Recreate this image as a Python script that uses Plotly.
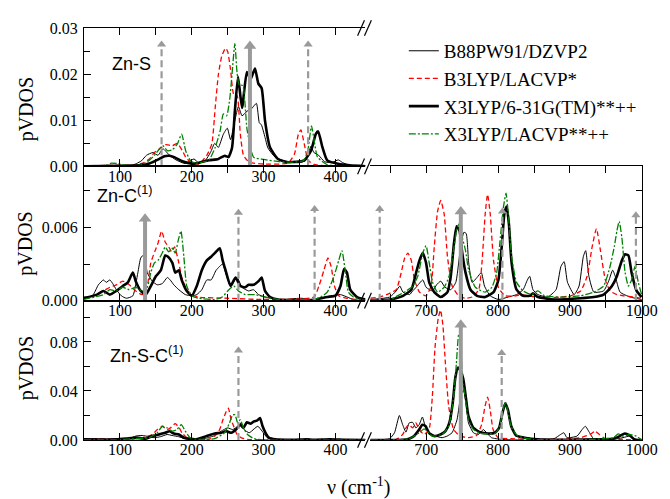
import plotly.graph_objects as go

# ---------------- data (wavenumber cm-1, pVDOS) ----------------
series_names = ["B88PW91/DZVP2", "B3LYP/LACVP*", "X3LYP/6-31G(TM)**++", "X3LYP/LACVP**++"]
panel_labels = ["Zn-S", "Zn-C<sup>(1)</sup>", "Zn-S-C<sup>(1)</sup>"]
left_ticks = [100, 200, 300, 400]
right_ticks = [700, 800, 900, 1000]

# Zn-S panel
zns_b88_x = [50, 100, 118, 123, 130, 137, 146, 153, 160, 169, 178, 191, 203, 210, 219, 226, 232, 237, 244, 249.5, 254, 260, 265, 270, 277, 283, 290, 294, 297, 302, 306, 316, 334, 350, 359, 366, 370, 376, 385, 395, 404, 410, 420, 442]
zns_b88_y = [0, 0.0002, 0.0003, 0.0006, 0.0012, 0.0024, 0.003, 0.0024, 0.0038, 0.0024, 0.0014, 0.0006, 0.0016, 0.0007, 0.0013, 0.003, 0.005, 0.0041, 0.007, 0.0083, 0.0058, 0.010, 0.013, 0.011, 0.012, 0.0125, 0.0137, 0.0095, 0.009, 0.0063, 0.004, 0.002, 0.0009, 0.0008, 0.0013, 0.0044, 0.003, 0.0025, 0.001, 0.0008, 0.0014, 0.0008, 0.0002, 0]
zns_b3_x = [50, 80, 120, 132, 141, 148, 157, 164, 173, 180, 187, 191.5, 200, 210, 221, 228, 232.6, 237, 241.8, 247, 250, 254, 258.5, 263, 267.6, 272, 280, 300, 334, 343, 348.4, 352, 356.6, 362, 370, 390, 442]
zns_b3_y = [0, 0.0002, 0.0003, 0.0007, 0.0016, 0.003, 0.004, 0.0047, 0.0045, 0.005, 0.0034, 0.002, 0.0007, 0.0005, 0.0024, 0.0049, 0.0127, 0.0199, 0.024, 0.0257, 0.025, 0.021, 0.0156, 0.0155, 0.007, 0.0024, 0.0009, 0.0005, 0.0007, 0.0027, 0.007, 0.0079, 0.0049, 0.0013, 0.0004, 0.0001, 0]
zns_x6_x = [50, 100, 130, 141, 155, 162, 169, 175.6, 187, 196, 205, 223.5, 237, 246, 251, 256, 260, 264.4, 270, 276.7, 282, 288, 292.7, 297.3, 302, 309, 320, 334, 356.6, 366, 372.6, 376, 382, 388.6, 402, 420, 442]
zns_x6_y = [0, 0.0001, 0.0003, 0.0006, 0.0016, 0.0022, 0.0023, 0.002, 0.0011, 0.0007, 0.0006, 0.0013, 0.0016, 0.0023, 0.002, 0.004, 0.012, 0.0195, 0.0127, 0.0205, 0.019, 0.0213, 0.018, 0.017, 0.0099, 0.0041, 0.0016, 0.0009, 0.0013, 0.0034, 0.007, 0.0076, 0.0041, 0.0013, 0.0006, 0.0002, 0]
zns_xl_x = [50, 80, 88, 96, 110, 130, 141, 148, 159.6, 166, 173, 180, 186, 191.5, 198, 205, 223.5, 232.6, 239.5, 244, 248.6, 253, 256, 260, 263, 266, 271, 277, 286, 300, 322, 340, 355, 361, 366.7, 371, 375, 388, 400, 442]
zns_xl_y = [0, 0.0002, 0.0007, 0.0006, 0.0002, 0.0003, 0.0013, 0.0024, 0.0045, 0.0034, 0.0036, 0.0049, 0.007, 0.0034, 0.0013, 0.0007, 0.0013, 0.0041, 0.0077, 0.0114, 0.011, 0.0148, 0.020, 0.0267, 0.0205, 0.0177, 0.0176, 0.008, 0.002, 0.0015, 0.001, 0.0009, 0.0012, 0.003, 0.0088, 0.005, 0.002, 0.0004, 0.0001, 0]

# Zn-C(1) panel
znc_b88_x = [49, 58, 63, 70, 77, 81, 86, 90, 95, 102, 109, 118, 125, 129, 134, 138, 145, 152, 159, 166, 170, 175, 182, 191, 200, 207, 214, 221, 227, 234, 243, 247, 254, 263, 270, 279, 286, 293, 302, 320, 352, 370, 393, 407, 425, 442,
             622, 649, 658, 663, 667.5, 676.6, 681, 685.8, 695, 699.6, 708.7, 714.2, 720, 726, 734, 741, 747.7, 752.3, 755.5, 759, 763.8, 770.6, 776.6, 781, 789, 800.4, 814, 825.7, 834.8, 840.8, 844, 848.6, 855.5, 869, 880.7, 887.5, 892, 896.7, 906, 912.8, 918.7, 922, 926.5, 933.4, 947, 954, 959.6, 963.2, 970, 984, 1000]
znc_b88_y = [0.0003, 0.0003, 0.0005, 0.0013, 0.0017, 0.0015, 0.0017, 0.0014, 0.0009, 0.0004, 0.0002, 0.0004, 0.0023, 0.0035, 0.0038, 0.0023, 0.0016, 0.0013, 0.0014, 0.0019, 0.0017, 0.0013, 0.0009, 0.0005, 0.0004, 0.0005, 0.0009, 0.0017, 0.0017, 0.0025, 0.003, 0.0023, 0.0012, 0.0019, 0.0011, 0.0008, 0.0009, 0.0005, 0.0003, 0.0001, 0.0002, 0.0001, 0.0004, 0.0005, 0.0001, 0,
             0.0001, 0.0003, 0.0008, 0.0012, 0.0007, 0.0005, 0.0008, 0.0011, 0.0017, 0.0011, 0.0008, 0.0013, 0.0016, 0.0011, 0.0009, 0.0015, 0.0044, 0.0056, 0.0055, 0.0031, 0.0015, 0.0019, 0.0023, 0.0012, 0.0004, 0.0001, 0.0003, 0.0005, 0.0009, 0.0017, 0.002, 0.0009, 0.0005, 0.0003, 0.0009, 0.0028, 0.0032, 0.0015, 0.0005, 0.0012, 0.0036, 0.0041, 0.002, 0.0007, 0.0008, 0.0016, 0.0025, 0.002, 0.0007, 0.0003, 0.0001]
znc_b3_x = [49, 63, 77, 86, 95, 104, 113, 122, 131, 138, 143, 149, 153, 158, 163, 168, 172, 176, 182, 186, 193, 200, 209, 250, 300, 370, 377, 384, 389.5, 394, 398.6, 404.6, 416, 442,
            622, 635, 644.5, 658, 665, 669.8, 674.3, 679, 683.5, 690.4, 699.6, 706.5, 711, 715.6, 720, 724.8, 729.4, 736, 745, 754.6, 763.8, 773, 777.5, 782, 785.3, 789, 793.6, 800.4, 809.6, 823.4, 832.5, 841.7, 864.6, 887.5, 901.3, 915, 924, 931, 937, 942.6, 949.4, 956, 965.5, 974.7, 988.4, 1000]
znc_b3_y = [0.0002, 0.0004, 0.0008, 0.0011, 0.0013, 0.0016, 0.0013, 0.0008, 0.0005, 0.0012, 0.0031, 0.0041, 0.0047, 0.0057, 0.0048, 0.0044, 0.004, 0.0044, 0.0031, 0.0019, 0.0009, 0.0005, 0.0003, 0.0002, 0.0001, 0.0003, 0.0012, 0.0025, 0.0035, 0.0028, 0.0012, 0.0004, 0.0002, 0,
            0.0002, 0.0003, 0.0005, 0.0009, 0.0023, 0.0035, 0.0039, 0.0033, 0.0017, 0.0007, 0.0004, 0.0012, 0.0044, 0.0073, 0.0082, 0.0071, 0.0036, 0.0012, 0.0004, 0.0002, 0.0003, 0.0009, 0.0031, 0.0071, 0.0087, 0.0071, 0.0033, 0.0011, 0.0004, 0.0004, 0.0005, 0.0004, 0.0002, 0.0003, 0.0004, 0.0008, 0.002, 0.0044, 0.0059, 0.0041, 0.0017, 0.0008, 0.0005, 0.0004, 0.0003, 0.0002]
znc_x6_x = [49, 68, 77, 86, 95, 104, 111, 118, 122, 129, 136, 143, 150, 157, 163, 167, 173, 177, 182, 186, 193, 200, 207, 214, 221, 227, 232, 239, 243, 247, 254, 261, 267.6, 274.5, 279, 286, 293, 297.3, 302, 309, 320, 360, 388.6, 400, 407, 412, 416, 420.6, 430, 442,
            622, 649, 667.5, 679, 685.8, 690.4, 695, 699.6, 704, 711, 720, 729.4, 734, 738.5, 742.2, 746.3, 750, 754.6, 761.5, 770.6, 782, 793.6, 800.4, 805, 808.7, 811.9, 815, 818.8, 825.7, 834.8, 844, 848.6, 855.5, 878.4, 915, 933.4, 947, 958.6, 965.5, 972.4, 977, 981.6, 986, 993, 1000]
znc_x6_y = [0.0002, 0.0005, 0.0008, 0.0005, 0.0008, 0.0012, 0.0015, 0.0023, 0.0016, 0.0008, 0.0005, 0.0012, 0.002, 0.0025, 0.0037, 0.0036, 0.0031, 0.0023, 0.0025, 0.0017, 0.0008, 0.0004, 0.0012, 0.0025, 0.0033, 0.0036, 0.0039, 0.0043, 0.0033, 0.0025, 0.0012, 0.0019, 0.0012, 0.0011, 0.0013, 0.0013, 0.0016, 0.0019, 0.0008, 0.0003, 0.0001, 0, 0.0003, 0.0004, 0.0012, 0.0026, 0.0023, 0.0009, 0.0003, 0.0001,
            0, 0.0001, 0.0004, 0.0009, 0.0023, 0.0033, 0.0039, 0.0031, 0.0015, 0.0007, 0.0003, 0.0007, 0.002, 0.0047, 0.0061, 0.0057, 0.0039, 0.0023, 0.0009, 0.0004, 0.0003, 0.0007, 0.0017, 0.0044, 0.0071, 0.0077, 0.0063, 0.0031, 0.0009, 0.0004, 0.0004, 0.0006, 0.0003, 0.0001, 0.0002, 0.0003, 0.0005, 0.0012, 0.002, 0.0033, 0.0038, 0.0037, 0.0023, 0.0008, 0.0003]
znc_xl_x = [49, 77, 86, 95, 104, 113, 122, 131, 138, 143, 148, 153, 159, 163, 168, 173, 177, 181, 185, 189, 193, 200, 209, 232, 242.5, 251.6, 258.5, 265, 274.5, 288, 302, 320, 370, 379.5, 388.6, 398, 404.6, 409, 414, 418, 425, 442,
            622, 650, 663, 672, 681, 688, 695, 699.6, 704, 708.7, 715.6, 724.8, 731.7, 738.5, 743, 746.3, 750, 754.6, 759, 768.3, 782, 791.3, 798, 802.7, 807.3, 811, 814.2, 818.8, 825.7, 834.8, 846.3, 855.5, 864.6, 887.5, 915, 933.4, 947, 956, 961.8, 965.5, 968.7, 972.4, 977, 981.6, 986, 990.7, 995.3, 1000]
znc_xl_y = [0.0001, 0.0005, 0.0009, 0.0008, 0.0011, 0.0009, 0.0011, 0.0008, 0.0011, 0.0023, 0.0031, 0.0033, 0.0039, 0.0044, 0.004, 0.0043, 0.0039, 0.0049, 0.0057, 0.0036, 0.0012, 0.0004, 0.0002, 0.0001, 0.0003, 0.0009, 0.0012, 0.0008, 0.0005, 0.0005, 0.0003, 0.0001, 0.0001, 0.0003, 0.0007, 0.002, 0.0033, 0.0041, 0.0023, 0.0007, 0.0003, 0,
            0.0001, 0.0001, 0.0005, 0.0008, 0.0012, 0.002, 0.0039, 0.0045, 0.0031, 0.0015, 0.0007, 0.0011, 0.002, 0.0044, 0.006, 0.0063, 0.0052, 0.0041, 0.0025, 0.0011, 0.0007, 0.0011, 0.0023, 0.0049, 0.0076, 0.0088, 0.0071, 0.0036, 0.0015, 0.0008, 0.0005, 0.0008, 0.0004, 0.0003, 0.0004, 0.0007, 0.0012, 0.0028, 0.0044, 0.0057, 0.0065, 0.0052, 0.0023, 0.0012, 0.0017, 0.0028, 0.0015, 0.0005]

# Zn-S-C(1) panel
znsc_b88_x = [50, 104, 113, 122, 131, 140.6, 147.5, 156.6, 165.7, 172.6, 181.7, 191, 209, 223, 232, 241, 250, 257, 264, 268.5, 273, 280, 286.7, 292, 298, 305, 314, 340, 442,
              622, 648.7, 655.6, 662.4, 667, 671.6, 676, 680.8, 685.4, 690, 694.5, 699, 703.7, 713, 722, 729, 735.8, 742.7, 748.6, 751.8, 755.5, 758.7, 765.6, 772.5, 779.4, 784, 790.8, 804.6, 832, 841, 850, 878, 887, 891.7, 896, 910, 917, 921.5, 927.5, 933, 956, 974, 983, 992.5, 1000]
znsc_b88_y = [0.0001, 0.0001, 0.0011, 0.0032, 0.0037, 0.0027, 0.0019, 0.0027, 0.0045, 0.0037, 0.0027, 0.0011, 0.0005, 0.0019, 0.0037, 0.0072, 0.0099, 0.0085, 0.0112, 0.0139, 0.0085, 0.0059, 0.009, 0.0112, 0.0072, 0.0019, 0.0005, 0.0001, 0,
              0, 0.0011, 0.0059, 0.020, 0.0125, 0.0064, 0.0139, 0.0144, 0.0099, 0.0125, 0.0187, 0.0099, 0.0059, 0.0032, 0.0019, 0.0032, 0.0059, 0.0165, 0.0379, 0.0405, 0.030, 0.0139, 0.0059, 0.0045, 0.0085, 0.0059, 0.0019, 0.0005, 0.0001, 0.0019, 0.0005, 0.0011, 0.0045, 0.0059, 0.0019, 0.0032, 0.0085, 0.0112, 0.0059, 0.0011, 0.0001, 0.0019, 0.0032, 0.0005, 0]
znsc_b3_x = [50, 67.6, 86, 113, 131.5, 145, 152, 159, 165.7, 170.3, 177, 182.6, 186.3, 193.1, 204.5, 223, 232, 238.8, 243.4, 248, 251, 254.8, 258.4, 263, 268.5, 277.6, 300.4, 442,
             622, 658, 667, 671.6, 676, 680.8, 685.4, 690, 696.8, 703.7, 708.3, 712, 716.5, 719.7, 723, 726.6, 731.2, 738, 747, 758.7, 770, 777, 781.6, 785.3, 789, 793, 800, 818, 841, 887, 914.6, 928.4, 935, 941, 949, 969.6, 1000]
znsc_b3_y = [0.0001, 0.0011, 0.0005, 0.0005, 0.0019, 0.0045, 0.0085, 0.0112, 0.0085, 0.0099, 0.0133, 0.0099, 0.0059, 0.0019, 0.0005, 0.0005, 0.0032, 0.0085, 0.0165, 0.0232, 0.026, 0.0165, 0.0112, 0.0045, 0.0019, 0.0005, 0.0001, 0,
             0, 0.0005, 0.0045, 0.0099, 0.0125, 0.0099, 0.0139, 0.0085, 0.0045, 0.0085, 0.035, 0.075, 0.099, 0.106, 0.094, 0.062, 0.027, 0.0085, 0.0032, 0.0019, 0.0037, 0.0125, 0.027, 0.035, 0.0245, 0.0085, 0.0019, 0.0011, 0.0005, 0.0005, 0.0019, 0.0045, 0.0072, 0.0045, 0.0011, 0.0005, 0]
znsc_x6_x = [50, 95, 108.7, 122, 136, 145, 154, 163, 169, 175, 182, 189, 195.4, 205, 214, 223, 232, 241, 248, 255, 261.6, 267.6, 272, 276.7, 282, 286.7, 291.3, 295, 298.6, 302.7, 307.3, 316.4, 341.5, 360, 369, 392, 414.6, 442,
             622, 667, 676, 683, 690, 694.5, 699, 703.7, 710.6, 719.7, 726.6, 732, 736.7, 740.4, 744, 747.7, 751.4, 755, 758.7, 765.6, 774.8, 786, 795.4, 801.4, 806, 810, 813.7, 818.3, 825, 836.7, 855, 933, 960.5, 969.6, 976.5, 983.4, 990, 1000]
znsc_x6_y = [0.0005, 0.0005, 0.0011, 0.0019, 0.0011, 0.0032, 0.0045, 0.0059, 0.0072, 0.0053, 0.0045, 0.0019, 0.0011, 0.0005, 0.0019, 0.0037, 0.0053, 0.0059, 0.0072, 0.0059, 0.0085, 0.0125, 0.0099, 0.0144, 0.0133, 0.0152, 0.016, 0.0179, 0.0112, 0.0059, 0.0019, 0.0005, 0.0001, 0.0005, 0.0001, 0.0005, 0.0001, 0,
             0, 0.0001, 0.0011, 0.0032, 0.0085, 0.0125, 0.0112, 0.0059, 0.0032, 0.0045, 0.0072, 0.0139, 0.030, 0.051, 0.059, 0.0565, 0.050, 0.035, 0.0192, 0.0099, 0.0064, 0.0053, 0.0059, 0.0099, 0.0219, 0.030, 0.0245, 0.0112, 0.0037, 0.0019, 0.0005, 0.0005, 0.0011, 0.0032, 0.0053, 0.0037, 0.0005, 0]
znsc_xl_x = [50, 95, 117.8, 140.6, 152, 159, 165.7, 172.6, 179.4, 185.4, 191, 197.7, 209, 232, 245.6, 252.5, 257, 260.3, 264, 267.6, 272, 277.6, 286.7, 300, 442,
             622, 676, 690, 696.8, 701, 708.3, 722, 731, 738, 741.8, 745, 747.7, 750.5, 754, 758.7, 765.6, 777, 795.4, 801.4, 806, 810, 813.7, 818.3, 827.5, 850, 930, 960.5, 967.3, 974, 983.4, 992.5, 999]
znsc_xl_y = [0, 0.0001, 0.0011, 0.0019, 0.0059, 0.0112, 0.0099, 0.0072, 0.0085, 0.0125, 0.0072, 0.0019, 0.0005, 0.0011, 0.0059, 0.0139, 0.0205, 0.0205, 0.0139, 0.0165, 0.0099, 0.0045, 0.0011, 0.0001, 0,
             0, 0.0011, 0.0059, 0.009, 0.0072, 0.0032, 0.0045, 0.0112, 0.035, 0.062, 0.086, 0.080, 0.0485, 0.035, 0.0165, 0.0085, 0.0053, 0.0053, 0.0099, 0.0219, 0.031, 0.023, 0.0107, 0.0032, 0.0005, 0.0005, 0.0019, 0.005, 0.0032, 0.0045, 0.0032, 0.0005]

# experimental-mode arrows: (position, tip height)
zns_solid_x, zns_solid_y = [281], [0.0262]
zns_dash_x, zns_dash_y = [158, 362], [0.0265, 0.0265]
znc_solid_x, znc_solid_y = [135, 748], [0.0067, 0.0073]
znc_dash_x, znc_dash_y = [265, 371, 635, 806, 992], [0.0072, 0.0075, 0.0075, 0.0073, 0.0070]
znsc_solid_x, znsc_solid_y = [748], [0.094]
znsc_dash_x, znsc_dash_y = [265, 805], [0.073, 0.071]

y_ranges = [[0, 0.0301], [0, 0.011], [0, 0.1136]]
y_dticks = [0.01, 0.006, 0.04]
y_minor = [0.005, 0.003, 0.02]
y_formats = [".2f", ".3f", ".2f"]

# ---------------- layout geometry ----------------
# The page body adds an 8px margin, so the figure is sized/offset to compensate.
OFF = 8
W, H = 670 - OFF, 499 - OFF
ML, MR, MT, MB = 84 - OFF, 19, 20 - OFF, 59
PW, PH = W - ML - MR, H - MT - MB


def px2x(p):
    # window pixel -> paper x
    return (p - OFF - ML) / PW


def py2y(p):
    # window pixel -> paper y
    return (H - MB - (p - OFF)) / PH


L_dom = [0, px2x(370)]
R_dom = [px2x(375), 1]
L_range = [50, 441.8]
R_range = [622, 1000.5]
panel_dom = [[py2y(161), 1], [py2y(298), py2y(161)], [0, py2y(298)]]

SERIF = "Liberation Serif, Times New Roman, serif"
SANS = "Liberation Sans, Arial, sans-serif"

styles = [
    dict(color="black", width=1.0),
    dict(color="#ff0000", width=1.3, dash="5px,3px"),
    dict(color="black", width=2.6),
    dict(color="#008000", width=1.3, dash="7px,2px,2px,2px"),
]

panels = [
    [(zns_b88_x, zns_b88_y), (zns_b3_x, zns_b3_y), (zns_x6_x, zns_x6_y), (zns_xl_x, zns_xl_y)],
    [(znc_b88_x, znc_b88_y), (znc_b3_x, znc_b3_y), (znc_x6_x, znc_x6_y), (znc_xl_x, znc_xl_y)],
    [(znsc_b88_x, znsc_b88_y), (znsc_b3_x, znsc_b3_y), (znsc_x6_x, znsc_x6_y), (znsc_xl_x, znsc_xl_y)],
]
arrows = [
    (zns_solid_x, zns_solid_y, zns_dash_x, zns_dash_y),
    (znc_solid_x, znc_solid_y, znc_dash_x, znc_dash_y),
    (znsc_solid_x, znsc_solid_y, znsc_dash_x, znsc_dash_y),
]

fig = go.Figure()


def refs(p, side):
    k = 2 * p + 1 + side
    return ("x" if k == 1 else f"x{k}"), ("y" if k == 1 else f"y{k}")


for p, panel in enumerate(panels):
    for s, (xs, ys) in enumerate(panel):
        for side in (0, 1):
            pts = [(a, b) for a, b in zip(xs, ys) if (a < 500) == (side == 0)]
            if not pts:
                continue
            xr, yr = refs(p, side)
            first = (p == 0 and side == 0)
            fig.add_trace(go.Scatter(
                x=[a for a, _ in pts], y=[b for _, b in pts],
                mode="lines", line=dict(shape="spline", smoothing=0.5, **styles[s]),
                xaxis=xr, yaxis=yr, name=series_names[s], legendgroup=series_names[s],
                showlegend=first, legendrank=s + 1, hoverinfo="skip"))
    sx, sy, dx, dy = arrows[p]
    for xv, yv, solid in [(a, b, True) for a, b in zip(sx, sy)] + [(a, b, False) for a, b in zip(dx, dy)]:
        side = 0 if xv < 500 else 1
        xr, yr = refs(p, side)
        fig.add_trace(go.Scatter(
            x=[xv, xv], y=[0, yv], mode="lines", xaxis=xr, yaxis=yr, showlegend=False,
            line=dict(color="#9a9a9a", width=4 if solid else 2.2, dash="solid" if solid else "7px,4px"),
            hoverinfo="skip"))
        fig.add_trace(go.Scatter(
            x=[xv], y=[yv], mode="markers", xaxis=xr, yaxis=yr, showlegend=False,
            marker=dict(symbol="triangle-up", size=11 if solid else 8, color="#9a9a9a", line=dict(width=0)),
            hoverinfo="skip"))

layout = dict(
    width=W, height=H, margin=dict(l=ML, r=MR, t=MT, b=MB),
    paper_bgcolor="white", plot_bgcolor="white",
    font=dict(family=SERIF, size=16, color="black"),
    legend=dict(x=px2x(409), y=py2y(24), xanchor="left", yanchor="top",
                font=dict(family=SERIF, size=19), bgcolor="rgba(0,0,0,0)",
                tracegroupgap=0, itemwidth=30),
    showlegend=True,
)

tick_common = dict(ticks="inside", ticklen=7, tickwidth=1.2, tickcolor="black",
                   showline=True, linecolor="black", linewidth=1.3,
                   showgrid=False, zeroline=False)

for p in range(3):
    for side in (0, 1):
        k = 2 * p + 1 + side
        xkey = "xaxis" if k == 1 else f"xaxis{k}"
        ykey = "yaxis" if k == 1 else f"yaxis{k}"
        xr, yr = refs(p, side)
        layout[xkey] = dict(
            domain=L_dom if side == 0 else R_dom, range=L_range if side == 0 else R_range,
            anchor=yr, mirror="ticks", tickvals=left_ticks if side == 0 else right_ticks,
            minor=dict(dtick=50, tick0=0, ticks="inside", ticklen=7, tickwidth=1.2, tickcolor="black"),
            tickfont=dict(family=SERIF, size=16), ticklabelstandoff=-5, **tick_common)
        layout[ykey] = dict(
            domain=panel_dom[p], range=y_ranges[p], anchor=xr,
            side="left" if side == 0 else "right", showticklabels=(side == 0),
            dtick=y_dticks[p], tick0=0, tickformat=y_formats[p],
            minor=dict(dtick=y_minor[p], tick0=0, ticks="inside", ticklen=6, tickwidth=1.2, tickcolor="black"),
            tickfont=dict(family=SERIF, size=16), ticklabelstandoff=2, **tick_common)

fig.update_layout(**layout)

# axis-break marks "//" on every horizontal frame line
for py in [20, 161, 298, 440]:
    for off in (0, 7):
        fig.add_shape(type="line", xref="paper", yref="paper",
                      x0=px2x(362 + off), y0=py2y(py + 8), x1=px2x(369 + off), y1=py2y(py - 8),
                      line=dict(color="black", width=1.2))

# panel labels
label_pos = [(110, 57), (95, 190), (108, 353)]
for txt, (lx, ly) in zip(panel_labels, label_pos):
    fig.add_annotation(text=txt, x=px2x(lx), y=py2y(ly), xref="paper", yref="paper",
                       xanchor="left", yanchor="middle", showarrow=False,
                       font=dict(family=SANS, size=18, color="black"))

# y titles
for ly in [103, 240, 367]:
    fig.add_annotation(text="pVDOS", x=px2x(25), y=py2y(ly), xref="paper", yref="paper",
                       xanchor="center", yanchor="middle", textangle=-90, showarrow=False,
                       font=dict(family=SERIF, size=20, color="black"))

# x title
fig.add_annotation(text="ν (cm<sup>-1</sup>)", x=px2x(363), y=py2y(487), xref="paper", yref="paper",
                   xanchor="center", yanchor="middle", showarrow=False,
                   font=dict(family=SERIF, size=20, color="black"))

fig.write_html("out.html")
